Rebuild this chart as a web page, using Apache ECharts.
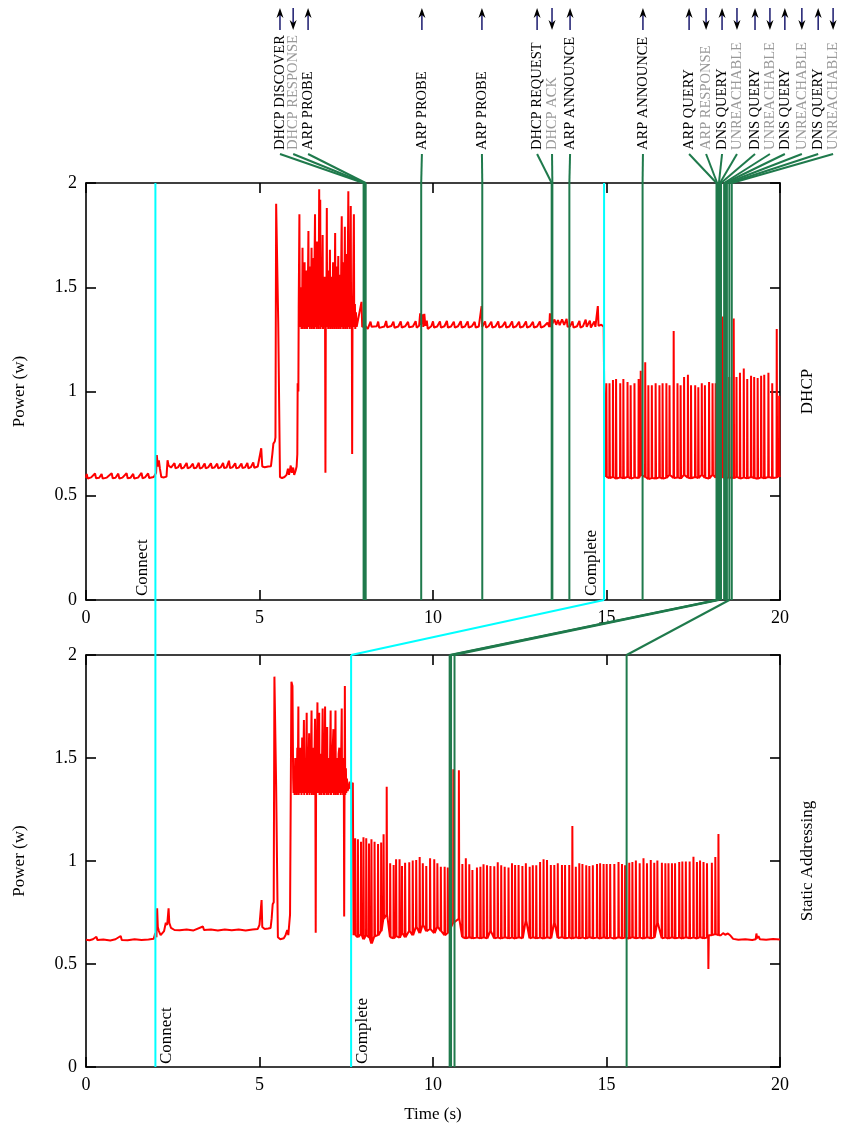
<!DOCTYPE html>
<html><head><meta charset="utf-8">
<script src="https://cdn.jsdelivr.net/npm/echarts@6/dist/echarts.min.js"></script>
<style>html,body{margin:0;padding:0;background:#fff}#c{width:841px;height:1128px}</style>
</head><body><div id="c"></div><script>
// ---------- DATA ----------
const xTicks = [0, 5, 10, 15, 20];
const yTicks = [0, 0.5, 1, 1.5, 2];
const panelNames = ['DHCP', 'Static Addressing'];

// DHCP power trace [time s, power W] up to the "Complete" point
const dhcpTrace = [
[0,0.585],[0.02,0.605],[0.05,0.583],[0.15,0.588],[0.26,0.607],[0.29,0.584],[0.38,0.586],[0.45,0.604],[0.48,0.582],[0.6,0.587],[0.74,0.608],[0.77,0.584],[0.85,0.586],[0.93,0.606],[0.96,0.583],[1.05,0.587],[1.17,0.608],[1.2,0.584],[1.28,0.586],[1.36,0.605],[1.39,0.583],[1.5,0.587],[1.6,0.61],[1.63,0.584],[1.7,0.588],[1.79,0.607],[1.82,0.585],[1.95,0.59],[1.99,0.6],
[2.02,0.61],[2.04,0.695],[2.07,0.64],[2.1,0.67],[2.13,0.63],[2.17,0.59],[2.25,0.588],[2.32,0.592],[2.35,0.67],[2.38,0.645],[2.45,0.635],
[2.5,0.633],[2.55,0.656],[2.58,0.632],[2.65,0.636],[2.72,0.655],[2.75,0.631],[2.82,0.635],[2.9,0.657],[2.93,0.632],[3.0,0.636],[3.08,0.654],[3.11,0.632],[3.18,0.634],[3.25,0.658],[3.28,0.631],[3.35,0.635],[3.42,0.655],[3.45,0.632],[3.52,0.636],[3.6,0.656],[3.63,0.633],[3.7,0.635],[3.78,0.654],[3.81,0.632],[3.88,0.636],[3.95,0.657],[3.98,0.633],[4.05,0.635],[4.12,0.668],[4.15,0.633],[4.22,0.636],[4.3,0.656],[4.33,0.632],[4.4,0.635],[4.48,0.655],[4.51,0.633],[4.58,0.636],[4.65,0.657],[4.68,0.632],[4.75,0.637],[4.82,0.66],[4.85,0.634],[4.95,0.64],[5.0,0.648],[5.05,0.728],[5.08,0.64],[5.15,0.637],[5.25,0.64],[5.33,0.642],
[5.37,0.7],[5.4,0.75],[5.44,0.76],[5.46,0.78],[5.48,1.9],[5.52,1.9],[5.54,1.33],[5.57,1.33],[5.59,0.59],[5.65,0.585],[5.72,0.59],[5.78,0.6],[5.82,0.63],[5.85,0.6],[5.9,0.645],[5.93,0.61],[5.97,0.635],[6.0,0.6],[6.04,0.62],[6.07,0.64],
[6.09,0.7],[6.1,1.04],[6.12,1.0],[6.13,1.4],[6.15,1.85],[6.16,1.32],
[6.17,1.45],[6.18,1.31],[6.2,1.5],[6.21,1.3],[6.23,1.42],[6.24,1.69],[6.25,1.3],[6.27,1.55],[6.28,1.31],[6.3,1.62],[6.31,1.3],[6.33,1.48],[6.34,1.31],[6.36,1.58],[6.37,1.3],[6.39,1.44],[6.41,1.77],[6.42,1.31],[6.44,1.5],[6.45,1.3],[6.47,1.6],[6.48,1.31],[6.5,1.69],[6.51,1.3],[6.53,1.46],[6.54,1.31],[6.56,1.64],[6.57,1.3],[6.58,1.52],[6.6,1.85],[6.61,1.31],[6.63,1.55],[6.64,1.3],[6.66,1.72],[6.67,1.31],[6.69,1.48],[6.7,1.3],[6.72,1.97],[6.73,1.32],[6.75,1.92],[6.76,1.3],[6.78,1.5],[6.79,1.31],[6.81,1.6],[6.82,1.75],[6.83,1.3],[6.85,1.46],[6.86,1.31],[6.88,1.55],[6.89,1.3],[6.9,0.61],[6.91,1.3],[6.93,1.5],[6.94,1.88],[6.95,1.31],[6.97,1.45],[6.98,1.3],[7.0,1.58],[7.01,1.31],[7.03,1.68],[7.04,1.3],[7.06,1.47],[7.07,1.31],[7.09,1.55],[7.1,1.3],[7.12,1.62],[7.13,1.31],[7.15,1.44],[7.16,1.3],[7.18,1.76],[7.19,1.31],[7.21,1.52],[7.22,1.3],[7.24,1.6],[7.25,1.31],[7.27,1.65],[7.28,1.3],[7.3,1.48],[7.31,1.31],[7.33,1.56],[7.34,1.3],[7.36,1.7],[7.37,1.84],[7.38,1.31],[7.4,1.5],[7.41,1.3],[7.43,1.62],[7.44,1.31],[7.46,1.79],[7.47,1.3],[7.49,1.52],[7.5,1.31],[7.52,1.66],[7.53,1.3],[7.56,1.96],[7.57,1.31],[7.59,1.55],[7.6,1.3],[7.63,1.89],[7.64,1.31],[7.66,1.45],[7.67,0.7],[7.68,1.3],[7.7,1.5],[7.72,1.85],[7.73,1.31],[7.75,1.42],[7.76,1.3],[7.78,1.38],[7.8,1.31],
[7.85,1.315],[7.94,1.43],[7.96,1.31],[8.05,1.315],[8.12,1.3],[8.2,1.335],[8.23,1.31],[8.38,1.313],[8.42,1.335],[8.45,1.305],[8.6,1.312],[8.65,1.338],[8.68,1.308],[8.8,1.314],[8.86,1.335],[8.89,1.306],[9.0,1.312],[9.07,1.336],[9.1,1.307],[9.2,1.313],[9.28,1.334],[9.31,1.308],[9.42,1.312],[9.5,1.337],[9.53,1.306],[9.6,1.315],[9.63,1.375],[9.65,1.32],[9.7,1.37],[9.72,1.31],[9.75,1.372],[9.78,1.315],[9.82,1.34],[9.85,1.3],[9.95,1.313],[10.0,1.336],[10.03,1.307],[10.12,1.312],[10.2,1.336],[10.23,1.306],[10.33,1.313],[10.4,1.338],[10.43,1.307],[10.52,1.312],[10.6,1.335],[10.63,1.306],[10.72,1.313],[10.8,1.337],[10.83,1.307],[10.92,1.312],[11.0,1.336],[11.03,1.306],[11.12,1.313],[11.2,1.334],[11.23,1.307],[11.32,1.312],[11.4,1.41],[11.42,1.31],[11.5,1.336],[11.53,1.306],[11.6,1.313],[11.68,1.335],[11.71,1.307],[11.8,1.312],[11.88,1.336],[11.91,1.306],[12.0,1.313],[12.08,1.334],[12.11,1.307],[12.2,1.312],[12.28,1.336],[12.31,1.306],[12.4,1.313],[12.48,1.335],[12.51,1.307],[12.6,1.312],[12.68,1.336],[12.71,1.306],[12.8,1.313],[12.88,1.334],[12.91,1.307],[13.0,1.312],[13.08,1.336],[13.11,1.306],[13.2,1.313],[13.3,1.33],[13.35,1.31],[13.37,1.375],[13.39,1.31],[13.5,1.345],[13.55,1.32],[13.6,1.342],[13.65,1.318],[13.72,1.346],[13.78,1.32],[13.85,1.348],[13.88,1.31],[13.95,1.313],[14.02,1.336],[14.05,1.306],[14.15,1.313],[14.22,1.338],[14.25,1.307],[14.32,1.312],[14.4,1.345],[14.43,1.31],[14.52,1.34],[14.55,1.307],[14.65,1.336],[14.68,1.31],[14.75,1.41],[14.77,1.315],[14.85,1.32],[14.92,1.31],[14.95,0.59]
];
// DHCP periodic bursts after Complete: [time s, base W, peak W]
const dhcpBursts = [
[14.99,0.59,1.04],[15.08,0.585,1.04],[15.18,0.59,1.055],[15.27,0.582,1.06],[15.39,0.588,1.04],[15.48,0.584,1.06],[15.6,0.59,1.045],[15.69,0.583,1.03],[15.8,0.587,1.04],[15.92,0.585,1.06],[15.98,0.6,1.1],[16.11,0.59,1.14],[16.2,0.58,1.03],[16.3,0.585,1.03],[16.41,0.583,1.04],[16.52,0.588,1.03],[16.61,0.582,1.04],[16.72,0.586,1.04],[16.81,0.6,1.03],[16.93,0.585,1.29],[17.04,0.588,1.04],[17.13,0.583,1.03],[17.23,0.6,1.07],[17.34,0.586,1.08],[17.43,0.584,1.03],[17.55,0.59,1.03],[17.64,0.585,1.02],[17.74,0.6,1.04],[17.83,0.586,1.03],[17.95,0.583,1.045],[18.05,0.6,1.04],[18.14,0.587,1.04],[18.24,0.585,1.39],[18.34,0.59,1.36],[18.43,0.584,1.34],[18.53,0.588,1.07],[18.66,0.585,1.35],[18.74,0.59,1.07],[18.84,0.583,1.09],[18.95,0.587,1.11],[19.05,0.584,1.06],[19.16,0.59,1.075],[19.25,0.585,1.07],[19.35,0.582,1.065],[19.45,0.588,1.075],[19.54,0.584,1.08],[19.66,0.59,1.09],[19.77,0.585,1.04],[19.9,0.587,1.3],[19.97,0.6,0.98]
];
const dhcpTail = [[20,0.59]];

// Static addressing trace
const staticTrace = [
[0,0.618],[0.1,0.615],[0.2,0.62],[0.3,0.632],[0.33,0.616],[0.5,0.619],[0.7,0.614],[0.85,0.62],[1.0,0.636],[1.03,0.617],[1.2,0.615],[1.4,0.62],[1.6,0.616],[1.8,0.619],[1.95,0.622],[1.98,0.64],
[2.0,0.65],[2.03,0.63],[2.05,0.77],[2.07,0.68],[2.1,0.66],[2.15,0.64],[2.2,0.65],[2.25,0.66],[2.3,0.7],[2.34,0.69],[2.38,0.77],[2.4,0.7],[2.45,0.675],[2.55,0.665],
[2.7,0.664],[2.9,0.668],[3.1,0.663],[3.37,0.682],[3.4,0.665],[3.6,0.667],[3.8,0.663],[4.0,0.668],[4.2,0.664],[4.4,0.667],[4.6,0.663],[4.8,0.668],[4.95,0.67],[5.0,0.69],[5.04,0.69],[5.06,0.81],[5.08,0.68],[5.15,0.67],[5.25,0.672],[5.32,0.675],[5.35,0.72],[5.38,0.79],[5.41,0.8],
[5.43,1.895],[5.46,1.89],[5.48,1.36],[5.51,1.36],[5.53,0.63],[5.6,0.62],[5.7,0.625],[5.75,0.64],[5.8,0.665],[5.83,0.64],[5.86,0.7],[5.88,0.74],[5.9,0.745],[5.92,1.87],[5.95,1.85],[5.97,1.4],
[5.98,1.33],[6.0,1.45],[6.01,1.32],[6.03,1.5],[6.04,1.33],[6.06,1.42],[6.07,1.32],[6.09,1.55],[6.1,1.33],[6.12,1.75],[6.13,1.32],[6.15,1.45],[6.17,1.55],[6.18,1.33],[6.2,1.48],[6.21,1.32],[6.23,1.6],[6.24,1.33],[6.26,1.42],[6.28,1.685],[6.29,1.32],[6.31,1.5],[6.32,1.33],[6.34,1.45],[6.36,1.72],[6.37,1.32],[6.39,1.52],[6.4,1.33],[6.41,1.44],[6.43,1.62],[6.44,1.32],[6.46,1.48],[6.47,1.33],[6.5,1.73],[6.51,1.32],[6.53,1.46],[6.54,1.33],[6.56,1.55],[6.57,1.32],[6.6,1.69],[6.61,1.33],[6.62,0.652],[6.63,1.32],[6.65,1.5],[6.67,1.77],[6.68,1.33],[6.7,1.45],[6.72,1.72],[6.73,1.32],[6.75,1.52],[6.76,1.33],[6.78,1.44],[6.79,1.32],[6.82,1.74],[6.83,1.33],[6.85,1.5],[6.86,1.32],[6.89,1.75],[6.9,1.33],[6.92,1.46],[6.93,1.32],[6.95,1.65],[6.96,1.33],[6.98,1.5],[6.99,1.32],[7.01,1.42],[7.02,1.33],[7.05,1.73],[7.06,1.32],[7.08,1.48],[7.09,1.33],[7.11,1.55],[7.13,1.64],[7.14,1.32],[7.16,1.45],[7.17,1.33],[7.19,1.73],[7.2,1.32],[7.22,1.5],[7.23,1.33],[7.25,1.44],[7.26,1.32],[7.28,1.52],[7.3,1.55],[7.31,1.33],[7.33,1.46],[7.34,1.32],[7.37,1.74],[7.38,1.33],[7.4,1.5],[7.41,1.32],[7.43,1.45],[7.44,0.73],[7.45,1.33],[7.46,1.85],[7.47,1.32],[7.49,1.45],[7.5,1.33],[7.52,1.4],[7.54,1.34],[7.57,1.36],[7.6,1.385],[7.62,1.35],[7.66,1.37],[7.69,1.38],[7.71,0.64]
];
const staticBursts = [
[7.75,0.64,1.11],[7.83,0.63,1.105],[7.92,0.645,1.094],[7.99,0.62,1.115],[8.07,0.64,1.11],[8.15,0.63,1.085],[8.22,0.6,1.105],[8.31,0.635,1.094],[8.41,0.64,1.083],[8.5,0.66,1.09],[8.57,0.72,1.13],[8.66,0.74,1.36],[8.76,0.63,0.989],[8.86,0.625,0.981],[8.93,0.635,1.008],[9.03,0.628,1.008],[9.1,0.65,0.976],[9.19,0.63,0.992],[9.31,0.66,0.994],[9.41,0.64,1.002],[9.51,0.68,1.005],[9.61,0.65,1.019],[9.7,0.69,0.989],[9.8,0.66,0.976],[9.91,0.67,1.013],[10.03,0.65,1.008],[10.12,0.68,0.989],[10.22,0.66,0.972],[10.33,0.64,0.972],[10.42,0.65,0.968],[10.58,0.7,1.445],[10.74,0.72,1.44],
[10.84,0.63,0.985],[10.94,0.625,1.013],[11.04,0.63,0.984],[11.13,0.625,0.956],[11.26,0.628,0.968],[11.36,0.625,0.972],[11.45,0.63,0.984],[11.55,0.624,0.979],[11.65,0.66,0.976],[11.76,0.625,0.974],[11.86,0.628,0.994],[11.96,0.624,0.979],[12.06,0.63,0.972],[12.17,0.625,0.968],[12.27,0.628,0.989],[12.36,0.624,0.981],[12.46,0.63,0.981],[12.57,0.625,0.976],[12.67,0.71,0.989],[12.78,0.625,0.972],[12.87,0.63,0.979],[12.97,0.625,0.979],[13.08,0.628,0.995],[13.18,0.624,1.008],[13.28,0.63,1.005],[13.39,0.625,0.981],[13.49,0.7,0.981],[13.59,0.626,0.989],[13.71,0.63,0.981],[13.8,0.625,0.981],[13.92,0.628,0.981],[14.01,0.624,1.17],[14.11,0.63,0.972],[14.21,0.625,0.989],[14.3,0.628,0.985],[14.41,0.624,0.979],[14.5,0.63,0.976],[14.6,0.625,0.979],[14.72,0.628,0.985],[14.81,0.624,0.989],[14.91,0.63,0.985],[15.0,0.625,0.985],[15.1,0.628,0.985],[15.22,0.624,0.985],[15.34,0.63,0.995],[15.44,0.625,0.985],[15.53,0.628,0.979],[15.65,0.624,0.992],[15.74,0.63,0.995],[15.84,0.625,1.002],[15.95,0.628,0.989],[16.06,0.624,1.013],[16.16,0.63,0.989],[16.27,0.625,1.005],[16.37,0.628,0.992],[16.46,0.7,1.002],[16.59,0.625,0.992],[16.69,0.628,0.989],[16.78,0.624,0.989],[16.88,0.63,0.989],[16.97,0.625,0.989],[17.09,0.628,0.995],[17.18,0.624,0.997],[17.28,0.63,0.997],[17.39,0.625,0.997],[17.5,0.628,1.021],[17.6,0.624,0.995],[17.69,0.63,1.002],[17.79,0.625,0.995],[17.89,0.628,0.989],[17.93,0.64,0.476],[18.03,0.64,0.992],[18.13,0.645,1.019],[18.22,0.64,1.131]
];
const staticTail = [[18.26,0.645],[18.3,0.64],[18.36,0.65],[18.42,0.642],[18.5,0.648],[18.56,0.64],[18.6,0.645],[18.65,0.622],[18.8,0.618],[19.0,0.62],[19.2,0.617],[19.3,0.62],[19.32,0.648],[19.34,0.625],[19.38,0.635],[19.42,0.62],[19.6,0.618],[19.8,0.621],[20,0.619]];

// Connection milestones (s)
const dhcpConnect = 2.0, dhcpComplete = 14.93;
const staticConnect = 2.0, staticComplete = 7.64;

// DHCP packet events
const eventLabels = ['DHCP DISCOVER','DHCP RESPONSE','ARP PROBE','ARP PROBE','ARP PROBE','DHCP REQUEST','DHCP ACK','ARP ANNOUNCE','ARP ANNOUNCE','ARP QUERY','ARP RESPONSE','DNS QUERY','UNREACHABLE','DNS QUERY','UNREACHABLE','DNS QUERY','UNREACHABLE','DNS QUERY','UNREACHABLE'];
const eventOutgoing = [1,0,1,1,1,1,0,1,1,1,0,1,0,1,0,1,0,1,0];
const eventTimes = [8.0,8.03,8.06,9.66,11.42,13.42,13.44,13.93,16.04,18.17,18.19,18.24,18.27,18.3,18.39,18.42,18.47,18.54,18.61];
const eventLabelAt = [5.59,5.97,6.40,9.68,11.41,13.0,13.43,13.95,16.05,17.38,17.87,18.33,18.76,19.28,19.71,20.14,20.63,21.1,21.53];
// Static addressing events and their DHCP counterparts
const staticEventTimes = [10.48,10.52,10.62,15.58];
const staticEventFrom = [18.17,18.19,18.24,18.54];

// ---------- CHART ----------
const FONT = 'Liberation Serif';
const RED = '#ff0000', CYAN = '#00ffff', GREEN = '#1f7a4c', GREY = '#999999';
function bursts(list){ const out=[]; for(const [t,b,p] of list){ out.push([t,b],[t+0.006,p],[t+0.018,b]); } return out; }
const dhcpData = dhcpTrace.concat(bursts(dhcpBursts), dhcpTail);
const staticData = staticTrace.concat(bursts(staticBursts), staticTail);

const chart = echarts.init(document.getElementById('c'), null, {renderer:'canvas'});
const axLine = {show:true, onZero:false, lineStyle:{color:'#000', width:1.6}};
const axTick = {show:true, inside:true, length:10, lineStyle:{color:'#000', width:1.6}};
function xAx(gi, pos, labels, extra){ return Object.assign({type:'value', gridIndex:gi, position:pos, min:xTicks[0], max:xTicks[xTicks.length-1], interval:xTicks[1]-xTicks[0],
  axisLine:axLine, axisTick:axTick, splitLine:{show:false},
  axisLabel:{show:labels, fontFamily:FONT, fontSize:18, color:'#000', margin:9}}, extra||{}); }
function yAx(gi, pos, labels, extra){ return Object.assign({type:'value', gridIndex:gi, position:pos, min:yTicks[0], max:yTicks[yTicks.length-1], interval:yTicks[1]-yTicks[0],
  axisLine:axLine, axisTick:axTick, splitLine:{show:false},
  axisLabel:{show:labels, fontFamily:FONT, fontSize:18, color:'#000', margin:9}}, extra||{}); }
const yName = {name:'Power (w)', nameLocation:'middle', nameRotate:90, nameGap:58, nameTextStyle:{fontFamily:FONT, fontSize:17, color:'#000'}};

const series = [];
series.push({type:'line', xAxisIndex:0, yAxisIndex:0, data:dhcpData, symbol:'none', lineStyle:{color:RED, width:2}, z:2, animation:false, silent:true});
series.push({type:'line', xAxisIndex:2, yAxisIndex:2, data:staticData, symbol:'none', lineStyle:{color:RED, width:2}, z:2, animation:false, silent:true});
function vline(xi, yi, t, color, w){ series.push({type:'line', xAxisIndex:xi, yAxisIndex:yi, data:[[t,yTicks[0]],[t,yTicks[yTicks.length-1]]], symbol:'none', lineStyle:{color:color, width:w}, z:3, animation:false, silent:true}); }
vline(0,0,dhcpConnect,CYAN,2); vline(0,0,dhcpComplete,CYAN,2);
vline(2,2,staticConnect,CYAN,2); vline(2,2,staticComplete,CYAN,2);
eventTimes.forEach(t=>vline(0,0,t,GREEN,2));
staticEventTimes.forEach(t=>vline(2,2,t,GREEN,2));

chart.setOption({
  animation:false,
  backgroundColor:'#fff',
  textStyle:{fontFamily:FONT},
  grid:[{left:86, top:183, width:694, height:417}, {left:86, top:655, width:694, height:412}],
  xAxis:[xAx(0,'bottom',true), xAx(0,'top',false), xAx(1,'bottom',true,{name:'Time (s)', nameLocation:'middle', nameGap:39, nameTextStyle:{fontFamily:FONT, fontSize:17, color:'#000'}}), xAx(1,'top',false)],
  yAxis:[yAx(0,'left',true,yName), yAx(0,'right',false), yAx(1,'left',true,yName), yAx(1,'right',false)],
  series:series
});

// annotations positioned through the chart's own scales
const P0 = (t,v)=>chart.convertToPixel({xAxisIndex:0, yAxisIndex:0}, [t,v]);
const P1 = (t,v)=>chart.convertToPixel({xAxisIndex:2, yAxisIndex:2}, [t,v]);
const YMAX = yTicks[yTicks.length-1], YMIN = yTicks[0];
const g = [];
const LABEL_Y = 150, LEADER_Y = 154, ARROW_TOP = 8, ARROW_BOT = 30;
function seg(a,b,color,w){ g.push({type:'line', shape:{x1:a[0],y1:a[1],x2:b[0],y2:b[1]}, style:{stroke:color, lineWidth:w}, z:10}); }
function vtext(x,y,text,color,size,vAlign,align){ g.push({type:'text', x:x, y:y, rotation:Math.PI/2, style:{text:text, fill:color, fontFamily:FONT, fontSize:size, align:align||'left', verticalAlign:vAlign}, z:11}); }

eventLabels.forEach((lab,i)=>{
  const lx = P0(eventLabelAt[i], YMAX)[0];
  const top = P0(eventTimes[i], YMAX);
  const out = eventOutgoing[i]===1;
  vtext(lx, LABEL_Y, lab, out?'#000':GREY, 14.5, 'middle');
  seg([lx, LEADER_Y], top, GREEN, 2);
  const tipY = out?ARROW_TOP:ARROW_BOT, tailY = out?ARROW_BOT:ARROW_TOP, dir = out?1:-1;
  seg([lx, tailY], [lx, tipY + dir*5], '#1a1a6e', 1.5);
  g.push({type:'polygon', shape:{points:[[lx,tipY],[lx-3.5,tipY+dir*10],[lx,tipY+dir*7],[lx+3.5,tipY+dir*10]]}, style:{fill:'#000'}, z:11});
});
// panel connectors
seg(P0(dhcpConnect,YMIN), P1(staticConnect,YMAX), CYAN, 2);
seg(P0(dhcpComplete,YMIN), P1(staticComplete,YMAX), CYAN, 2);
staticEventTimes.forEach((t,i)=>seg(P0(staticEventFrom[i],YMIN), P1(t,YMAX), GREEN, 2));
// milestone labels
const b0 = P0(dhcpConnect,YMIN), b0c = P0(dhcpComplete,YMIN);
vtext(b0[0]-4, b0[1]-4, 'Connect', '#000', 17, 'bottom');
vtext(b0c[0]-4, b0c[1]-4, 'Complete', '#000', 17, 'bottom');
const b1 = P1(staticConnect,YMIN), b1c = P1(staticComplete,YMIN);
vtext(b1[0]+3, b1[1]-3, 'Connect', '#000', 17, 'top');
vtext(b1c[0]+3, b1c[1]-3, 'Complete', '#000', 17, 'top');
// panel titles on the right
const r0 = P0(xTicks[xTicks.length-1], (YMIN+YMAX)/2), r1 = P1(xTicks[xTicks.length-1], (YMIN+YMAX)/2);
vtext(r0[0]+28, r0[1], panelNames[0], '#000', 17, 'middle', 'center');
vtext(r1[0]+28, r1[1], panelNames[1], '#000', 17, 'middle', 'center');

chart.setOption({graphic:g});
</script></body></html>
